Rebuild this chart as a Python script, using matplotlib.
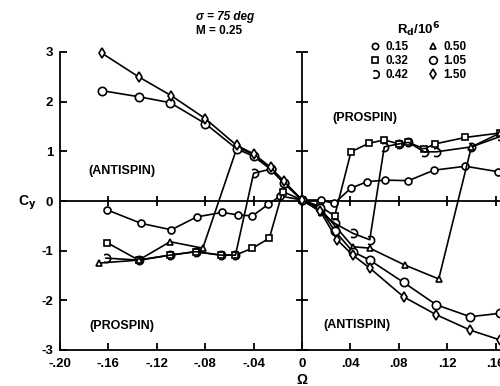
import matplotlib
matplotlib.use("Agg")
import matplotlib.pyplot as plt
from matplotlib.path import Path
from matplotlib.lines import Line2D
import numpy as np

plt.rcParams['font.family'] = ['Liberation Sans', 'DejaVu Sans']
plt.rcParams['font.weight'] = 'bold'
plt.rcParams['axes.unicode_minus'] = False

# ---- data ----
x_015 = [-0.161, -0.133, -0.108, -0.087, -0.066, -0.053, -0.041, -0.028, -0.018, 0.0,
         0.0155, 0.0265, 0.0405, 0.054, 0.069, 0.088, 0.109, 0.135, 0.162]
y_015 = [-0.18, -0.45, -0.58, -0.32, -0.23, -0.28, -0.30, -0.07, 0.10, 0.02,
         0.02, -0.05, 0.26, 0.39, 0.42, 0.41, 0.62, 0.70, 0.59]

x_032 = [-0.161, -0.135, -0.109, -0.088, -0.067, -0.055, -0.041, -0.027, -0.016, 0.0,
         0.015, 0.027, 0.0405, 0.055, 0.068, 0.080, 0.088, 0.101, 0.110, 0.135, 0.164]
y_032 = [-0.84, -1.19, -1.09, -1.02, -1.09, -1.09, -0.95, -0.75, 0.19, 0.02,
         -0.11, -0.30, 0.99, 1.16, 1.23, 1.15, 1.18, 1.05, 1.15, 1.28, 1.37]

x_042 = [-0.162, -0.135, -0.109, -0.088, -0.067, -0.055, -0.040, -0.026, -0.015, 0.0,
         0.015, 0.027, 0.042, 0.056, 0.068, 0.080, 0.088, 0.101, 0.111, 0.140, 0.164]
y_042 = [-1.15, -1.19, -1.09, -1.02, -1.09, -1.09, 0.56, 0.64, 0.37, 0.02,
         -0.21, -0.45, -0.65, -0.78, 1.09, 1.15, 1.18, 0.99, 0.99, 1.09, 1.30]

x_050 = [-0.168, -0.135, -0.109, -0.082, -0.0535, -0.040, -0.026, -0.015, 0.0,
         0.015, 0.029, 0.042, 0.056, 0.085, 0.113, 0.140, 0.164]
y_050 = [-1.25, -1.19, -0.82, -0.95, 1.09, 0.93, 0.66, 0.37, 0.02,
         -0.15, -0.55, -0.92, -0.95, -1.29, -1.57, 1.09, 1.37]

x_105 = [-0.165, -0.135, -0.109, -0.080, -0.054, -0.040, -0.026, -0.015, 0.0,
         0.015, 0.027, 0.042, 0.056, 0.084, 0.111, 0.139, 0.164]
y_105 = [2.22, 2.10, 1.98, 1.56, 1.05, 0.90, 0.64, 0.36, 0.02,
         -0.15, -0.60, -1.02, -1.19, -1.64, -2.09, -2.33, -2.26]

x_150 = [-0.165, -0.135, -0.108, -0.080, -0.054, -0.040, -0.026, -0.015, 0.0,
         0.015, 0.029, 0.042, 0.056, 0.084, 0.111, 0.139, 0.164]
y_150 = [2.97, 2.50, 2.12, 1.66, 1.12, 0.95, 0.68, 0.40, 0.02,
         -0.20, -0.78, -1.09, -1.35, -1.93, -2.29, -2.60, -2.80]

labels = ['0.15', '0.32', '0.42', '0.50', '1.05', '1.50']
xticks = [-0.20, -0.16, -0.12, -0.08, -0.04, 0.0, 0.04, 0.08, 0.12, 0.16]
xticklabels = ['-.20', '-.16', '-.12', '-.08', '-.04', '0', '.04', '.08', '.12', '.16']
yticks = [-3, -2, -1, 0, 1, 2, 3]

# ---- figure ----
W, H = 500, 386
fig = plt.figure(figsize=(5.0, 3.86), dpi=100)
pxu = 1210.0
xmin, xmax = -0.20, 0.175
ax = fig.add_axes([60 / W, (H - 350) / H, (xmax - xmin) * pxu / W, 298 / H])
ax.set_xlim(xmin, xmax)
ax.set_ylim(-3, 3)

arc = Path.arc(-125, 125)
markers = ['o', 's', arc, '^', 'o', 'd']
msizes = [5, 5, 6, 5, 6, 5.5]
series = [(x_015, y_015), (x_032, y_032), (x_042, y_042),
          (x_050, y_050), (x_105, y_105), (x_150, y_150)]
for (xs, ys), m, ms in zip(series, markers, msizes):
    mfc = 'none' if m is arc else 'white'
    ax.plot(xs, ys, color='black', lw=1.2, marker=m, ms=ms,
            mfc=mfc, mec='black', mew=1.2, zorder=3, clip_on=False)

# zero lines with crossing ticks
ax.axhline(0, color='black', lw=1.3, zorder=2)
ax.plot([0, 0], [-3, 3], color='black', lw=1.3, zorder=2)
ax.plot([t for t in xticks if t != 0 and t > -0.2], [0] * 8, ls='none',
        marker='|', ms=7, mew=1.3, color='black')
ax.plot([0] * 6, [t for t in yticks if t != 0], ls='none',
        marker='_', ms=8, mew=1.3, color='black', clip_on=False)

for s in ['top', 'right']:
    ax.spines[s].set_visible(False)
ax.spines['left'].set_linewidth(1.3)
ax.spines['bottom'].set_linewidth(1.3)
ax.set_xticks(xticks)
ax.set_xticklabels(xticklabels)
ax.set_yticks(yticks)
ax.tick_params(direction='in', length=5, width=1.3, labelsize=9.5)
ax.tick_params(axis='x', pad=6)
ax.tick_params(axis='y', pad=5)
for lab in ax.get_xticklabels() + ax.get_yticklabels():
    lab.set_fontweight('bold')

# axis labels
fig.text(27 / W, 1 - 203 / H, r'C$_\mathbf{y}$', fontsize=10, fontweight='bold',
         ha='center', va='center')
fig.text(302 / W, 1 - 380 / H, 'Ω', fontsize=10, fontweight='bold',
         ha='center', va='center')

# annotations
fig.text(196 / W, 1 - 17 / H, 'σ = 75 deg', fontsize=8.5, fontweight='bold',
         ha='left', va='center', style='italic')
fig.text(196 / W, 1 - 31 / H, 'M = 0.25', fontsize=8.5, fontweight='bold',
         ha='left', va='center')
fig.text(122 / W, 1 - 171 / H, '(ANTISPIN)', fontsize=9, fontweight='bold',
         ha='center', va='center')
fig.text(365 / W, 1 - 118 / H, '(PROSPIN)', fontsize=9, fontweight='bold',
         ha='center', va='center')
fig.text(122 / W, 1 - 326 / H, '(PROSPIN)', fontsize=9, fontweight='bold',
         ha='center', va='center')
fig.text(357 / W, 1 - 325 / H, '(ANTISPIN)', fontsize=9, fontweight='bold',
         ha='center', va='center')

# legend
handles = []
for m, ms in zip(markers, msizes):
    mfc = 'none' if m is arc else 'white'
    handles.append(Line2D([], [], ls='none', marker=m, ms=ms - 0.5, mfc=mfc,
                          mec='black', mew=1.2, color='black'))
leg = fig.legend(handles, labels, ncol=2, frameon=False,
                 title=r'R$_\mathbf{d}$/10$^\mathbf{6}$',
                 loc='upper left', bbox_to_anchor=(360 / W, 1 - 10 / H),
                 handlelength=0.8, handletextpad=0.5, columnspacing=1.6,
                 labelspacing=0.15, fontsize=8.5, title_fontsize=9.5)
for t in leg.get_texts():
    t.set_fontweight('bold')
leg.get_title().set_fontweight('bold')

fig.savefig('out.png', dpi=100)
